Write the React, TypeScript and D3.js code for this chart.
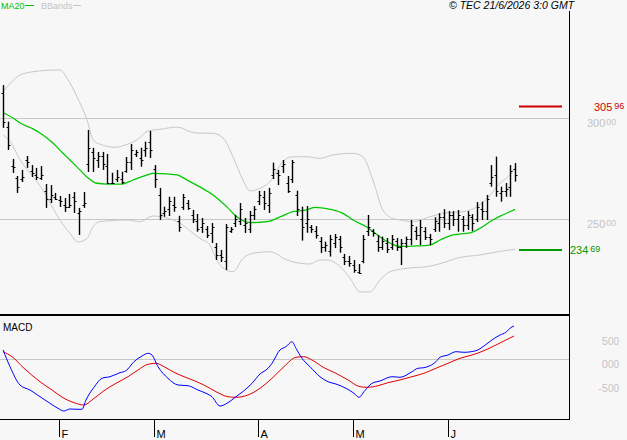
import React from "react";
import * as d3 from "d3";

// ---- OHLC bars (daily) ----
const highs = [316.3,298.2,279.7,271.3,274.3,281.2,276.7,275.3,276.2,267.3,266.8,262.9,261.4,260.4,262.4,263.4,255.5,263.4,294.1,285.2,283.2,283.2,282.2,272.9,274.3,273.4,280.7,287.1,284.2,285.3,288.3,293.6,276.7,265.4,256.1,261.0,261.0,251.6,262.4,259.4,254.5,252.5,250.5,246.5,248.0,238.1,234.7,247.5,246.0,252.0,257.9,250.5,254.0,256.4,263.9,263.9,265.4,277.9,274.3,279.2,271.3,279.2,264.0,256.1,256.4,247.0,246.5,241.1,238.8,242.1,242.6,241.6,232.7,231.7,229.7,227.7,242.1,252.0,245.0,242.1,241.3,240.6,242.1,240.6,240.1,241.3,249.5,246.2,249.5,246.0,242.6,250.9,252.9,254.9,253.9,253.9,254.4,251.5,253.9,252.4,258.4,258.6,261.9,276.7,280.9,266.0,267.8,276.7,277.7];
const lows = [295.1,284.2,272.8,262.9,268.3,275.3,270.8,269.3,269.3,255.5,257.9,259.4,256.0,253.5,255.5,253.0,242.1,255.5,273.3,273.3,275.3,274.3,267.3,267.3,268.3,267.3,272.9,274.3,280.7,275.9,280.8,280.2,265.4,249.5,251.1,251.5,253.6,243.7,254.5,254.5,248.0,243.7,243.1,240.6,238.1,229.7,228.7,224.8,243.1,246.0,247.0,243.1,243.1,249.5,256.9,254.5,253.0,269.8,266.8,272.8,262.9,267.8,251.5,239.3,243.2,243.1,240.3,233.2,233.8,231.4,235.6,233.3,227.2,226.4,223.4,222.8,228.1,241.6,241.3,233.8,234.7,233.2,234.7,234.2,227.2,235.7,237.1,239.6,237.1,239.6,237.1,243.6,243.7,245.5,244.6,246.5,243.7,243.7,244.6,244.0,248.5,249.5,249.5,266.0,261.0,258.6,261.0,261.0,268.5];
const opens = [312.5,295.5,276,270.5,270,279,274,272,270.5,264,260,261,259.5,257,256,261,253,257,277,283,279,281,276,268,270,270,274,278,282,280,284,288,275,262,253,255,257,249,256,258,252,249,246,245,243,236,232,229,244,248,249,247,245,252,259,261,257,272,273,276,268,270,262,250,248,246,244,239,236,234,238,240,231,229,227,224,229,244,244,239,236,238,236,239,236,238,240,244,242,244,241,245,248,251,248,252,250,250,247,251,250,255,254,268,272,263,264,266,275];
const closes = [298,286.5,275.9,266,271,278,273,271,272,260,262,260,259,256,257,259,254,258,285,280,281,277,268,268,271,268.5,278,284,283,279,285,284,270,252,254,259,256,246,261,255.5,250,245,248,242,246,232,231,246,245,250,255,248,252,255,262,258,263,275,272,277,264,278,255,246,250,245,242,236,237,240,241,236,229,228,225,223.5,240,246,243,236,239,235,240,236,238,240,247,242,246,241,240,249,251,248,252,250,252,247,252,248,256,254,260,271,264,264,265,274,272];

// ---- MA20 (sampled bar index / value) ----
const maIdx = [0,2.1,3.6,6.3,8.4,10.5,12.6,14.1,16.2,17.7,19.8,21.9,25.1,27.4,30.4,31.6,34.6,36.7,38.8,41.5,44.3,47.2,49.3,52.1,55.7,58.4,61.1,64.1,65.8,69.6,71.7,73.8,76.8,79.5,81.6,83.7,86.5,90.0,92.2,94.9,98.5,100.6,103.3,105.4,108];
const maVal = [302.6,300.0,297.5,294.6,291.6,287.6,282.7,279.2,274.3,270.8,267.7,267.3,267.3,269.3,271.8,272.6,272.3,271.8,269.3,265.9,261.9,256.0,251.1,248.2,248.7,251.0,253.6,254.5,255.8,254.5,252.8,249.5,245.9,241.1,238.1,236.4,236.6,237.1,239.6,242.1,243.1,245.4,249.5,252.0,254.8];

// ---- Bollinger bands ----
const upIdx = [0,3.6,6.3,12.0,13.5,15.6,17.7,19.0,20.4,23.6,26.3,28.2,30.6,33.1,36.7,40.5,44.3,46.4,48.5,50.6,52.1,54.2,56.3,59.0,60.9,64.1,66.8,69.6,73.8,75.9,78.0,80.1,82.0,83.7,86.5,90.0,93.6,97.0,100.0,102.1,104.8,106.9,108];
const upVal = [313.0,321.3,322.9,323.8,319.7,310.5,299.0,289.1,287.1,285.5,287.1,289.1,293.6,294.4,295.5,292.6,292.4,290.1,280.8,269.3,263.9,265.2,268.5,278.4,280.8,280.8,280.0,281.7,282.5,280.8,269.3,254.5,250.5,249.5,248.7,251.1,253.1,253.6,256.1,260.2,267.7,271.8,275.1];
const loIdx = [0,1.5,3.6,6.3,8.4,10.5,12.0,14.1,15.8,17.7,19.0,20.4,26.1,28.9,31.6,34.6,37.3,40.1,41.5,43.6,45.1,46.4,48.5,50.6,52.7,56.3,59.9,64.7,66.8,68.3,71.1,73.2,75.3,77.4,79.5,81.6,85.2,90.0,93.0,96.0,100.6,104.0,106.3,108];
const loVal = [291.6,288.3,279.2,270.9,264.4,255.4,249.5,242.9,238.6,240.4,246.2,248.7,249.5,248.7,251.5,250.4,247.9,242.9,240.4,237.1,229.7,225.7,223.9,230.5,233.0,233.8,229.7,227.7,229.7,229.7,226.4,220.6,213.9,213.9,219.8,223.9,225.6,226.6,228.5,230.8,232.2,233.6,234.5,234.9];

// ---- MACD ----
const macdIdx = [0,1.46,3.56,5.67,7.78,9.89,11.58,12.85,14.11,15.8,16.64,17.48,19.17,20.86,22.55,24.66,25.92,27.61,29.3,30.56,31.4,32.67,34.78,36.89,39.0,41.1,42.8,44.06,45.75,47.44,49.12,50.81,52.5,54.19,55.88,56.72,58.4,59.67,60.94,61.78,63.05,64.73,66.84,68.53,70.22,72.33,74.01,75.1,76.12,77.81,79.5,82.03,83.72,86.25,87.52,88.78,90.05,91.31,92.15,93.84,95.53,97.21,99.74,101.43,103.12,104.81,106.07,106.92,107.77];
const macdVal = [1.98,-1.57,-5.47,-6.53,-7.96,-9.36,-10.43,-11.0,-10.57,-10.64,-10.64,-8.66,-5.96,-4.04,-3.7,-2.85,-2.43,-0.51,0.70,1.28,0.91,-1.57,-4.04,-5.47,-5.62,-6.53,-7.23,-7.96,-9.94,-9.23,-7.96,-6.68,-5.11,-3.13,-1.91,-0.85,1.98,2.68,3.74,2.34,0.21,-1.57,-3.7,-4.77,-5.26,-6.17,-7.23,-8.09,-6.89,-5.11,-4.62,-3.7,-3.83,-2.64,-1.91,-1.79,-1.36,-0.51,0.43,0.91,1.62,1.49,1.83,2.83,4.11,5.17,5.74,6.6,7.09];
const sigIdx = [0,1.88,4.41,7.78,10.31,12.85,14.95,17.06,18.75,21.28,23.81,26.35,28.45,30.56,32.25,33.94,36.47,39.42,42.37,44.9,47.44,49.12,51.65,54.19,56.72,59.25,61.78,63.47,65.15,67.68,70.22,72.75,75.28,76.96,79.07,81.18,83.72,86.25,88.78,91.31,93.84,96.37,98.9,101.43,103.96,106.07,107.77];
const sigVal = [1.62,0.55,-1.91,-4.77,-6.53,-8.3,-9.23,-9.72,-8.66,-6.68,-5.11,-3.7,-2.28,-1.06,-0.85,-1.57,-2.98,-4.19,-5.47,-6.89,-7.96,-8.09,-7.6,-6.17,-4.04,-1.57,0.43,0.55,-0.15,-1.79,-2.98,-4.4,-5.83,-5.96,-5.62,-4.98,-4.4,-3.7,-2.98,-1.91,-0.85,0.21,0.91,1.83,3.04,4.11,4.96];

// ---- Axes / annotations ----
const monthTickIdx = [12, 32, 54, 74, 94];
const monthLabels = ["F", "M", "A", "M", "J"];
const priceTicks = [300, 250];
const macdTicks = [5, 0, -5];
const macdTickLabels = [["5", "00"], ["0", "00"], ["-5", "00"]];
const resistance = 305.96;
const support = 234.69;

const W = 627, H = 440;
const PANEL_R = 569;
const DIV_Y = 315;
const BOTTOM = 419;
const FONT = "'Liberation Sans', Arial, sans-serif";

export default function App() {
  const x = d3.scaleLinear().domain([0, 108]).range([3.1, 515.1]);
  const y = d3.scaleLinear().domain([250, 300]).range([219, 118]);
  const ym = d3.scaleLinear().domain([-5, 5]).range([382.8, 335.8]);

  const pairLine = (idx: number[], vals: number[], ys: d3.ScaleLinear<number, number>) =>
    d3.line<number>().x((_, k) => x(idx[k])).y((v) => ys(v)).curve(d3.curveMonotoneX)(vals) || "";

  const fmt = (v: number) => v.toFixed(2).split(".");
  const [rBig, rSmall] = fmt(resistance);
  const [sBig, sSmall] = fmt(support);

  return (
    <svg width={W} height={H} style={{ position: "absolute", left: 0, top: 0, background: "#f7f7f7" }} fontFamily={FONT}>
      <defs>
        <clipPath id="pc"><rect x={0} y={12} width={PANEL_R} height={DIV_Y - 12} /></clipPath>
        <clipPath id="mc"><rect x={0} y={DIV_Y + 1} width={PANEL_R} height={BOTTOM - DIV_Y - 1} /></clipPath>
      </defs>
      <rect x={0} y={0} width={W} height={H} fill="#f7f7f7" />

      {/* grid lines */}
      {priceTicks.map((t) => (
        <line key={t} x1={0} x2={PANEL_R} y1={Math.round(y(t)) + 0.5} y2={Math.round(y(t)) + 0.5} stroke="#c8c8c8" />
      ))}
      <line x1={0} x2={PANEL_R} y1={Math.round(ym(0)) + 0.5} y2={Math.round(ym(0)) + 0.5} stroke="#c8c8c8" />

      {/* price panel */}
      <g clipPath="url(#pc)">
        <path d={pairLine(upIdx, upVal, y)} fill="none" stroke="#c8c8c8" strokeWidth={1} />
        <path d={pairLine(loIdx, loVal, y)} fill="none" stroke="#c8c8c8" strokeWidth={1} />
        <path d={pairLine(maIdx, maVal, y)} fill="none" stroke="#00c800" strokeWidth={1.3} />
        {highs.map((h, i) => {
          const cx = Math.round(x(i)) + 0.5;
          return (
            <g key={i} stroke="#000" strokeWidth={1.4}>
              <line x1={cx} x2={cx} y1={y(h)} y2={y(lows[i])} />
              <line x1={cx - 2} x2={cx} y1={Math.round(y(opens[i])) + 0.5} y2={Math.round(y(opens[i])) + 0.5} strokeWidth={1} />
              <line x1={cx} x2={cx + 2} y1={Math.round(y(closes[i])) + 0.5} y2={Math.round(y(closes[i])) + 0.5} strokeWidth={1} />
            </g>
          );
        })}
      </g>

      {/* resistance / support markers */}
      <line x1={519} x2={562} y1={y(resistance) + 0.5} y2={y(resistance) + 0.5} stroke="#cc0000" strokeWidth={2} />
      <line x1={519} x2={562} y1={y(support)} y2={y(support)} stroke="#009900" strokeWidth={2} />
      <text x={594} y={y(resistance) + 5} fill="#cc0000" fontSize={11}>
        {rBig}<tspan fontSize={9} dy={-2} dx={2}>{rSmall}</tspan>
      </text>
      <text x={570} y={y(support) + 4.5} fill="#009900" fontSize={11}>
        {sBig}<tspan fontSize={9} dy={-2} dx={2}>{sSmall}</tspan>
      </text>

      {/* price axis labels */}
      {priceTicks.map((t) => (
        <text key={t} x={587} y={y(t) + 9} fill="#c4c4c4" fontSize={11}>
          {String(t)}<tspan fontSize={9} dy={-2} dx={1}>00</tspan>
        </text>
      ))}

      {/* MACD panel */}
      <g clipPath="url(#mc)">
        <path d={pairLine(sigIdx, sigVal, ym)} fill="none" stroke="#e00000" strokeWidth={1} />
        <path d={pairLine(macdIdx, macdVal, ym)} fill="none" stroke="#0000ff" strokeWidth={1} />
      </g>
      <text x={3} y={331} fontSize={10} fill="#000">MACD</text>
      {macdTicks.map((t, k) => (
        <text key={t} x={619} y={ym(t) + 9} fill="#c4c4c4" fontSize={11} textAnchor="end">
          {macdTickLabels[k][0]}<tspan fontSize={10}>{macdTickLabels[k][1]}</tspan>
        </text>
      ))}

      {/* frame */}
      <line x1={PANEL_R + 0.5} x2={PANEL_R + 0.5} y1={11} y2={BOTTOM + 1} stroke="#000" />
      <line x1={0} x2={PANEL_R + 1} y1={DIV_Y} y2={DIV_Y} stroke="#000" strokeWidth={2} />
      <line x1={0} x2={PANEL_R + 1} y1={BOTTOM + 0.5} y2={BOTTOM + 0.5} stroke="#000" />

      {/* month ticks */}
      {monthTickIdx.map((i, k) => {
        const tx = Math.round(x(i)) - 0.5;
        return (
          <g key={k}>
            <line x1={tx} x2={tx} y1={BOTTOM} y2={437} stroke="#000" />
            <text x={tx + 2} y={438} fontSize={11} fill="#000">{monthLabels[k]}</text>
          </g>
        );
      })}

      {/* legend */}
      <text x={1} y={9} fontSize={9} fill="#00c000">MA20</text>
      <line x1={25} x2={34} y1={5.5} y2={5.5} stroke="#00c000" strokeWidth={1} />
      <text x={41} y={9} fontSize={9} fill="#c4c4c4">BBands</text>
      <line x1={73} x2={81} y1={5.5} y2={5.5} stroke="#c4c4c4" strokeWidth={1} />

      <text x={449} y={9} fontSize={10.5} fontStyle="italic" fill="#000">© TEC 21/6/2026 3:0 GMT</text>
    </svg>
  );
}
